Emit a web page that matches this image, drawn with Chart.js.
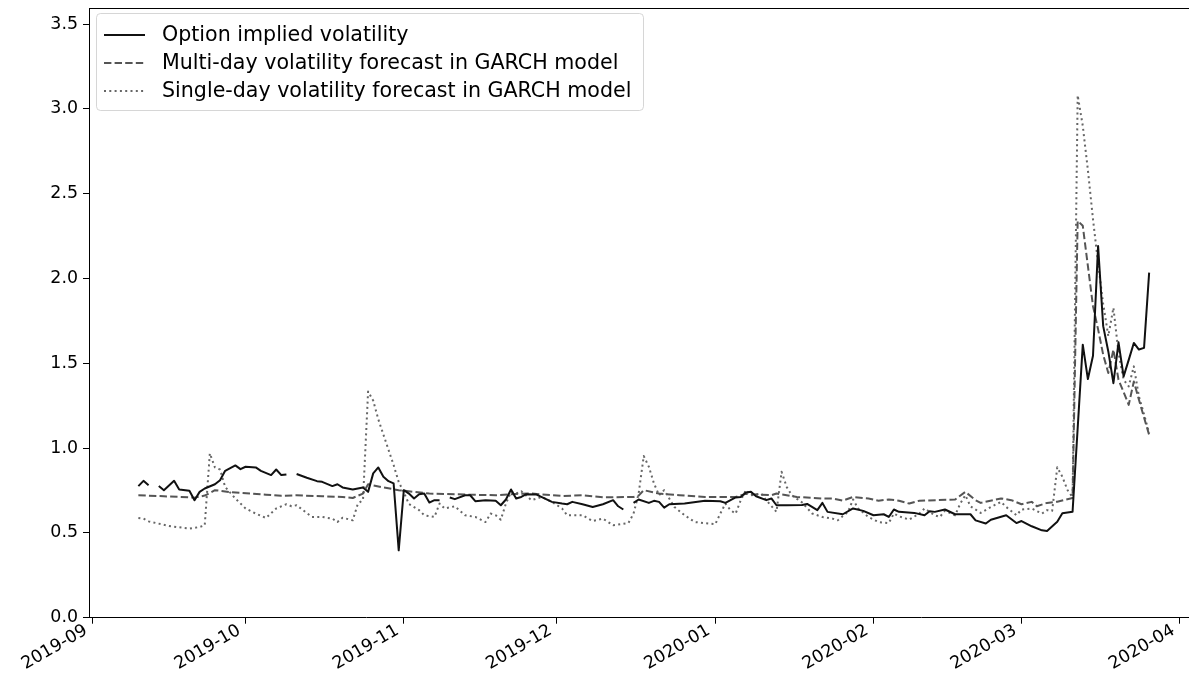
<!DOCTYPE html>
<html>
<head>
<meta charset="utf-8">
<script src="https://cdn.jsdelivr.net/npm/chart.js@4.4.1/dist/chart.umd.min.js"></script>
<style>
html, body { margin: 0; padding: 0; background: #fff; width: 1189px; height: 685px; overflow: hidden; }
#wrap { position: absolute; left: 0; top: 0; width: 1200px; height: 685px; }
</style>
</head>
<body>
<div id="wrap"><canvas id="c" width="1200" height="685"></canvas></div>
<script>
// ---------- DATA (x = days since START) ----------
const START = '2019-09-01';
const monthTicks = ['2019-09', '2019-10', '2019-11', '2019-12', '2020-01', '2020-02', '2020-03', '2020-04'];
const yTicks = [0, 0.5, 1.0, 1.5, 2.0, 2.5, 3.0, 3.5];
const seriesNames = [
  'Option implied volatility',
  'Multi-day volatility forecast in GARCH model',
  'Single-day volatility forecast in GARCH model'
];

const impliedDays = [9,10,11,12,13,14,16,17,19,20,21,22,24,25,26,28,29,30,32,33,35,36,37,38,39,40,42,44,45,47,48,49,51,53,54,55,56,57,58,59,60,61,62,63,64,65,66,67,68,69,70,71,73,74,75,77,79,80,81,82,83,84,85,87,90,92,93,94,96,98,100,102,103,104,105,106,107,109,110,111,112,113,116,120,123,124,126,127,128,129,130,132,133,134,136,139,140,142,143,144,147,149,151,153,155,156,157,158,161,163,164,165,167,169,172,173,175,176,179,181,182,184,186,187,189,190,192,194,195,196,197,198,199,200,201,202,203,204,205,206,207];
const impliedVol = [0.776,0.807,0.781,null,0.776,0.752,0.807,0.756,0.748,0.693,0.742,0.762,0.787,0.811,0.866,0.898,0.876,0.890,0.886,0.866,0.841,0.874,0.841,0.845,null,0.847,0.825,0.805,0.801,0.776,0.787,0.768,0.756,0.768,0.742,0.851,0.886,0.831,0.805,0.792,0.397,0.752,0.732,0.703,0.728,0.732,0.679,0.693,0.693,null,0.709,0.699,0.722,0.722,0.687,0.693,0.689,0.663,0.697,0.756,0.703,0.712,0.728,0.726,0.683,0.673,0.669,0.683,0.669,0.653,0.669,0.693,0.657,0.638,null,0.677,0.697,0.677,0.689,0.683,0.649,0.669,0.673,0.689,0.687,0.677,0.709,0.712,0.738,0.742,0.716,0.693,0.703,0.663,0.663,0.665,0.671,0.634,0.677,0.624,0.610,0.644,0.630,0.604,0.610,0.594,0.638,0.624,0.618,0.604,0.628,0.624,0.638,0.610,0.610,0.574,0.555,0.578,0.604,0.558,0.570,0.539,0.515,0.511,0.566,0.616,0.625,1.610,1.407,1.545,2.192,1.719,1.570,1.383,1.624,1.423,1.520,1.620,1.581,1.591,2.035];

const multiDays = [9,14,19,20,22,24,27,31,34,37,40,45,49,51,53,54,57,60,66,73,79,83,86,92,96,100,106,107,108,111,115,120,126,128,133,134,138,143,145,147,149,152,154,156,158,160,162,169,171,173,174,178,180,182,184,185,187,189,192,193,194,195,196,197,198,199,200,201,202,203,204,205,206,207];
const multiVol = [0.722,0.716,0.710,0.708,0.720,0.752,0.740,0.732,0.725,0.719,0.722,0.716,0.712,0.706,0.732,0.787,0.768,0.752,0.732,0.726,0.722,0.730,0.732,0.718,0.722,0.710,0.712,0.720,0.752,0.732,0.722,0.712,0.712,0.730,0.722,0.732,0.712,0.703,0.703,0.690,0.712,0.703,0.690,0.697,0.690,0.673,0.690,0.697,0.742,0.693,0.677,0.703,0.693,0.669,0.683,0.657,0.677,0.684,0.706,2.340,2.311,2.074,1.837,1.700,1.550,1.443,1.581,1.403,1.330,1.255,1.393,1.285,1.180,1.078];

const singleDays = [9,10,11,15,19,21,22,23,24,25,26,28,30,32,34,36,38,39,40,43,45,47,48,49,51,52,53,54,55,56,57,58,59,60,61,62,64,65,67,68,69,71,73,75,77,78,79,80,81,82,83,84,86,88,90,92,93,96,98,100,102,105,106,107,108,109,110,111,112,113,114,116,118,122,123,124,125,126,127,128,129,131,132,134,135,136,137,139,141,143,145,146,148,149,150,152,154,156,157,158,160,162,163,165,166,167,169,170,171,172,174,176,178,179,181,182,184,186,187,188,189,190,191,192,193,194,195,196,197,198,199,200,201,202,203,204,205,206,207];
const singleVol = [0.588,0.584,0.568,0.541,0.525,0.535,0.545,0.969,0.886,0.874,0.771,0.703,0.644,0.614,0.588,0.644,0.669,0.657,0.663,0.594,0.594,0.584,0.564,0.590,0.574,0.673,0.693,1.334,1.280,1.170,1.080,0.990,0.900,0.800,0.740,0.670,0.634,0.604,0.594,0.673,0.644,0.657,0.604,0.594,0.564,0.614,0.604,0.578,0.673,0.742,0.732,0.746,0.693,0.712,0.683,0.644,0.604,0.604,0.570,0.584,0.545,0.558,0.614,0.732,0.953,0.890,0.792,0.722,0.752,0.703,0.653,0.604,0.564,0.551,0.614,0.673,0.634,0.614,0.693,0.752,0.722,0.732,0.693,0.624,0.860,0.771,0.722,0.680,0.614,0.594,0.584,0.574,0.624,0.697,0.644,0.594,0.564,0.558,0.614,0.598,0.578,0.614,0.644,0.604,0.594,0.630,0.604,0.673,0.722,0.657,0.618,0.653,0.683,0.653,0.604,0.638,0.644,0.614,0.634,0.630,0.887,0.831,0.753,0.710,3.080,2.900,2.640,2.350,2.090,1.850,1.660,1.828,1.561,1.403,1.364,1.482,1.304,1.200,1.088];

// ---------- helpers ----------
const DAY = 86400000;
function dayOf(iso) { return (Date.parse(iso + 'T00:00:00Z') - Date.parse(START + 'T00:00:00Z')) / DAY; }
const tickDays = monthTicks.map(m => dayOf(m + '-01'));
function pts(days, vals) { return days.map((d, i) => ({ x: d, y: vals[i] })); }

const FONT = '"DejaVu Sans", "Liberation Sans", sans-serif';
const TICK_SIZE = 17.4;
const LEGEND_SIZE = 20.6;
const styles = [
  { color: '#111111', dash: [] },
  { color: '#555555', dash: [7.4, 3.2] },
  { color: '#666666', dash: [2, 3.3] }
];

const frameAndLegend = {
  id: 'frameAndLegend',
  afterDraw(chart) {
    const ctx = chart.ctx, a = chart.chartArea;
    ctx.save();
    // top & right spines (matplotlib box)
    ctx.strokeStyle = '#000';
    ctx.lineWidth = 1.2;
    ctx.beginPath();
    ctx.moveTo(a.left, Math.round(a.top) + 0.5);
    ctx.lineTo(a.right, Math.round(a.top) + 0.5);
    ctx.moveTo(a.right - 0.5, a.top);
    ctx.lineTo(a.right - 0.5, a.bottom);
    ctx.stroke();

    // rotated x tick labels (30deg, right aligned at the tick)
    const xs = chart.scales.x;
    const ang = 30 * Math.PI / 180;
    const boxH = TICK_SIZE * 1.164;
    const desc = TICK_SIZE * 0.236;
    const T = a.bottom + 1.5;
    ctx.font = TICK_SIZE + 'px ' + FONT;
    ctx.fillStyle = '#000';
    ctx.textAlign = 'right';
    ctx.textBaseline = 'alphabetic';
    tickDays.forEach((d, i) => {
      const px = xs.getPixelForValue(d) - 2;
      ctx.save();
      ctx.translate(px, T + boxH * Math.cos(ang));
      ctx.rotate(-ang);
      ctx.fillText(monthTicks[i], 0, -desc);
      ctx.restore();
    });

    // legend
    const x0 = 96.5, y0 = 13.5, w = 547, h = 97, r = 4;
    ctx.beginPath();
    ctx.moveTo(x0 + r, y0);
    ctx.lineTo(x0 + w - r, y0);
    ctx.quadraticCurveTo(x0 + w, y0, x0 + w, y0 + r);
    ctx.lineTo(x0 + w, y0 + h - r);
    ctx.quadraticCurveTo(x0 + w, y0 + h, x0 + w - r, y0 + h);
    ctx.lineTo(x0 + r, y0 + h);
    ctx.quadraticCurveTo(x0, y0 + h, x0, y0 + h - r);
    ctx.lineTo(x0, y0 + r);
    ctx.quadraticCurveTo(x0, y0, x0 + r, y0);
    ctx.closePath();
    ctx.fillStyle = 'rgba(255,255,255,0.8)';
    ctx.fill();
    ctx.lineWidth = 1;
    ctx.strokeStyle = 'rgba(204,204,204,0.8)';
    ctx.stroke();

    const rows = [35, 63, 91];
    ctx.font = LEGEND_SIZE + 'px ' + FONT;
    ctx.textBaseline = 'middle';
    ctx.textAlign = 'left';
    seriesNames.forEach((name, i) => {
      const y = rows[i];
      ctx.beginPath();
      ctx.setLineDash(styles[i].dash);
      ctx.strokeStyle = styles[i].color;
      ctx.lineWidth = 2;
      ctx.moveTo(104, y);
      ctx.lineTo(145, y);
      ctx.stroke();
      ctx.setLineDash([]);
      ctx.fillStyle = '#000';
      ctx.fillText(name, 162, y + 1);
    });
    ctx.restore();
  }
};

const datasets = [
  [impliedDays, impliedVol],
  [multiDays, multiVol],
  [singleDays, singleVol]
].map(([d, v], i) => ({
  label: seriesNames[i],
  data: pts(d, v),
  borderColor: styles[i].color,
  borderDash: styles[i].dash,
  borderWidth: 2,
  borderJoinStyle: 'round',
  borderCapStyle: 'butt',
  pointRadius: 0,
  fill: false,
  tension: 0,
  spanGaps: false
}));

new Chart(document.getElementById('c'), {
  type: 'line',
  data: { datasets },
  plugins: [frameAndLegend],
  options: {
    responsive: false,
    animation: false,
    devicePixelRatio: 1,
    events: [],
    layout: { padding: { top: 8, right: 2, left: 0, bottom: 0 } },
    plugins: { legend: { display: false }, tooltip: { enabled: false } },
    scales: {
      x: {
        type: 'linear',
        min: -0.67,
        max: 216.57,
        afterBuildTicks: s => { s.ticks = tickDays.map(v => ({ value: v })); },
        afterFit: s => { s.height = 67.3; s.paddingLeft = 0; s.paddingRight = 0; },
        grid: { display: true, drawOnChartArea: false, drawTicks: true, tickLength: 6, tickColor: '#000' },
        border: { display: true, color: '#000', width: 1 },
        ticks: { display: false, autoSkip: false }
      },
      y: {
        type: 'linear',
        min: 0,
        max: 3.595,
        afterBuildTicks: s => { s.ticks = yTicks.map(v => ({ value: v })); },
        afterFit: s => { s.width = 89; s.paddingTop = 0; s.paddingBottom = 0; },
        grid: { display: true, drawOnChartArea: false, drawTicks: true, tickLength: 6, tickColor: '#000' },
        border: { display: true, color: '#000', width: 1 },
        ticks: {
          padding: 5,
          color: '#000',
          font: { family: FONT, size: TICK_SIZE },
          callback: v => Number(v).toFixed(1)
        }
      }
    }
  }
});
</script>
</body>
</html>
